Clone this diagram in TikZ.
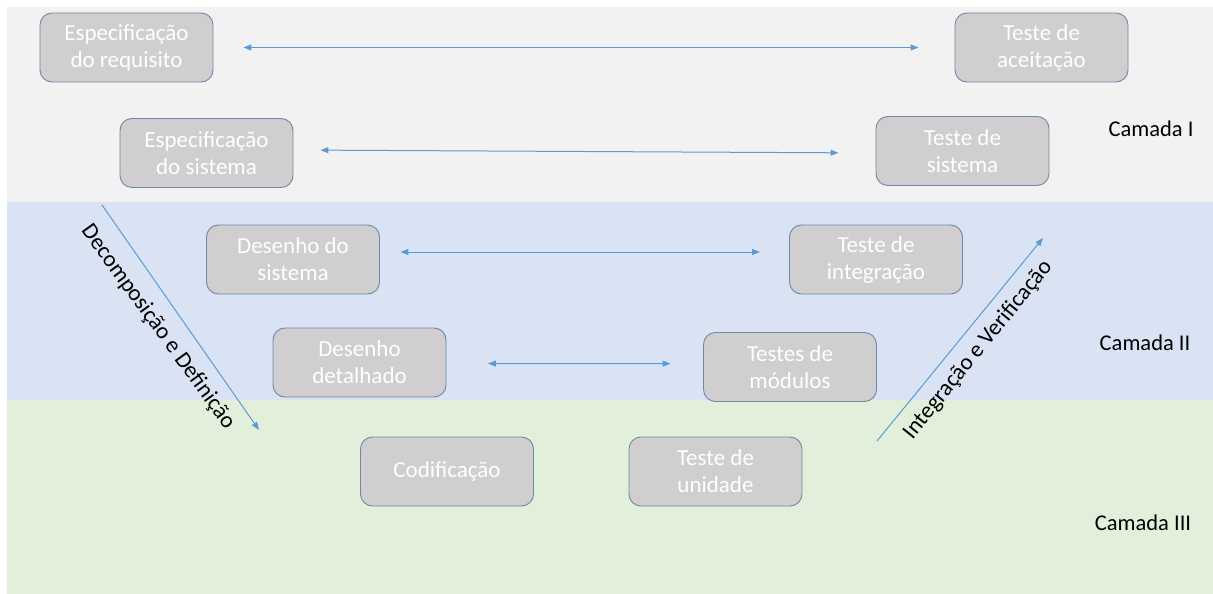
\documentclass[tikz,border=0pt]{standalone}
\usepackage{fontspec}
\setmainfont{Carlito}
\usetikzlibrary{arrows.meta}
\definecolor{bandgray}{HTML}{F2F2F2}
\definecolor{bandblue}{HTML}{DAE3F3}
\definecolor{bandgreen}{HTML}{E2EFDA}
\definecolor{boxfill}{HTML}{D0CECE}
\definecolor{boxline}{HTML}{6F88A6}
\definecolor{arrowblue}{HTML}{5B9BD5}
\tikzset{
  phase/.style={draw=boxline, line width=0.9pt, fill=boxfill, rounded corners=12pt,
    minimum width=173pt, minimum height=69pt, inner sep=0pt, align=center,
    text=white, font=\fontsize{23}{27}\selectfont},
  link/.style={draw=arrowblue, line width=1pt,
    {Triangle[length=8pt,width=6pt]}-{Triangle[length=8pt,width=6pt]}},
  flow/.style={draw=arrowblue, line width=1pt, -{Triangle[length=8pt,width=6pt]}},
  layer/.style={font=\fontsize{22.5}{27}\selectfont, text=black},
  sidetext/.style={font=\fontsize{23}{27}\selectfont, text=black, inner sep=0pt}
}
\begin{document}
\begin{tikzpicture}[x=1pt,y=-1pt]
  \useasboundingbox (0,0) rectangle (1213,594);
  % layer bands
  \fill[bandgray]  (7,7)   rectangle (1213,202);
  \fill[bandblue]  (7,202) rectangle (1213,400);
  \fill[bandgreen] (7,400) rectangle (1213,594);

  % left branch: specification and design
  \node[phase] (req)  at (126.5,47.5)  {Especificação\\do requisito};
  \node[phase] (sys)  at (206.5,153)   {Especificação\\do sistema};
  \node[phase] (arch) at (293,259.5)   {Desenho do\\sistema};
  \node[phase] (det)  at (359.5,362.5) {Desenho\\detalhado};
  \node[phase] (code) at (447,471.5)   {Codificação};

  % right branch: testing
  \node[phase] (acc)  at (1041.5,47.5) {Teste de\\aceitação};
  \node[phase] (syst) at (962.5,151)   {Teste de\\sistema};
  \node[phase] (intg) at (876,259.5)   {Teste de\\integração};
  \node[phase] (mod)  at (790,367)     {Testes de\\módulos};
  \node[phase] (unit) at (715.5,471.5) {Teste de\\unidade};

  % links between matching levels
  \draw[link, shorten <=30pt, shorten >=36pt] (req.east) -- (acc.west);
  \draw[link, shorten <=27pt, shorten >=37pt] ([yshift=3pt]sys.east) -- ([yshift=-2pt]syst.west);
  \draw[link, shorten <=20.5pt, shorten >=29pt] ([yshift=7.5pt]arch.east) -- ([yshift=7.5pt]intg.west);
  \draw[link, shorten <=41.5pt, shorten >=32.5pt] ([yshift=-1pt]det.east) -- ([yshift=3.3pt]mod.west);

  % descending and ascending flows
  \coordinate (dtop) at (102,205);
  \coordinate (dbot) at (259,430);
  \coordinate (ubot) at (877,441);
  \coordinate (utop) at (1043,238);
  \draw[flow] (dtop) -- (dbot);
  \draw[flow] (ubot) -- (utop);
  \node[sidetext, rotate=-54] (dlabel) at (158,327) {Decomposição e Definição};
  \node[sidetext, rotate=51]  (ulabel) at (978,350) {Integração e Verificação};

  % layer names
  \node[layer] (l1) at (1151,129) {Camada I};
  \node[layer] (l2) at (1145,343) {Camada II};
  \node[layer] (l3) at (1143,523) {Camada III};
\end{tikzpicture}
\end{document}
